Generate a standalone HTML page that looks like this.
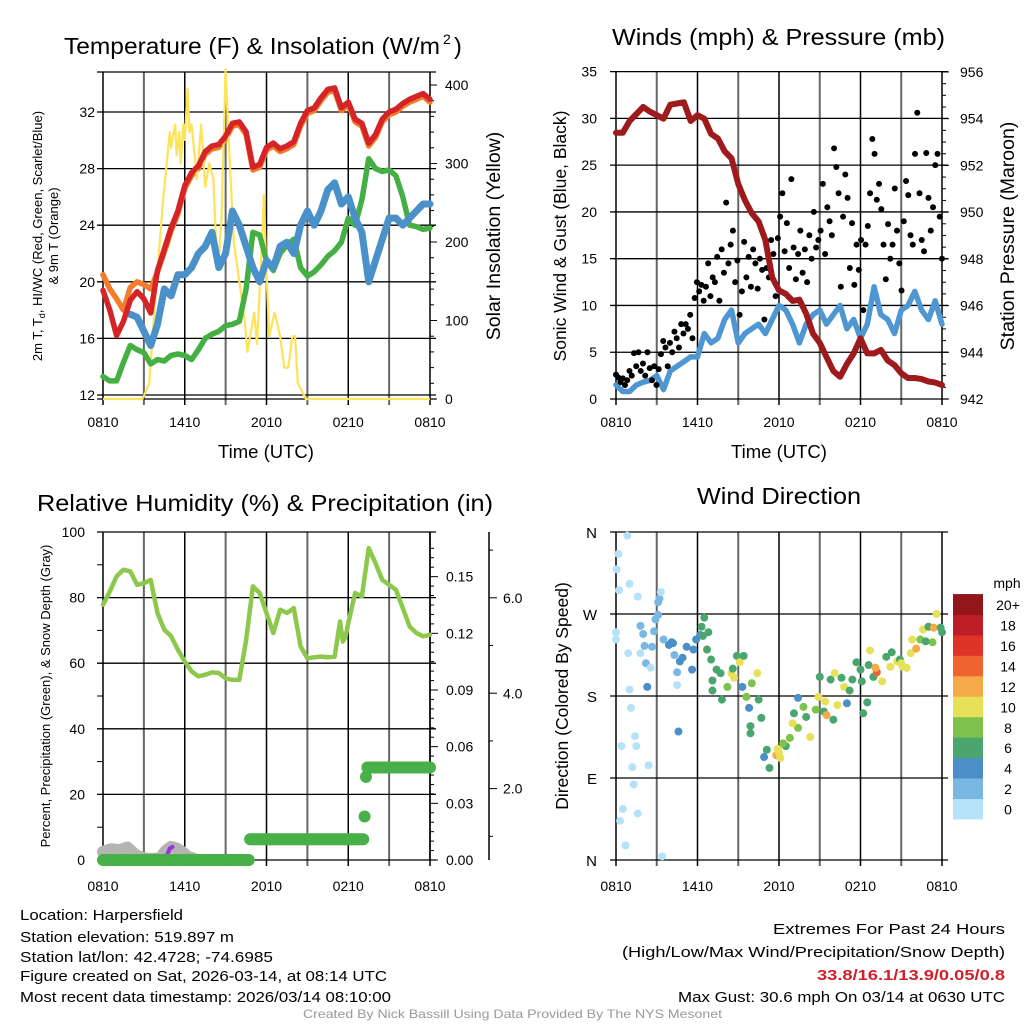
<!DOCTYPE html>
<html><head><meta charset="utf-8"><style>
html,body{margin:0;padding:0;background:#fff;}
svg{display:block;font-family:"Liberation Sans",sans-serif;}
</style></head><body>
<svg id="fig" width="1024" height="1024" viewBox="0 0 1024 1024" xmlns="http://www.w3.org/2000/svg">
<rect x="0" y="0" width="1024" height="1024" fill="#fff"/>
<g id="layer"></g>
</svg>
<script>
// ---------- DATA ----------
var halfHours = [0,0.5,1,1.5,2,2.5,3,3.5,4,4.5,5,5.5,6,6.5,7,7.5,8,8.5,9,9.5,10,10.5,11,11.5,12,12.5,13,13.5,14,14.5,15,15.5,16,16.5,17,17.5,18,18.5,19,19.5,20,20.5,21,21.5,22,22.5,23,23.5,24];
var tempRed = [19.4,18.0,16.2,17.2,18.7,19.3,18.8,17.8,20.8,22.3,23.8,25.0,26.8,27.7,28.2,29.2,29.6,29.7,30.3,31.2,31.3,30.6,28.1,28.3,29.5,29.8,29.4,29.6,29.9,31.2,32.1,32.3,33.0,33.6,33.7,32.3,32.7,31.5,31.2,29.8,30.4,31.5,32.0,32.2,32.6,32.9,33.1,33.3,32.9];
var temp9m = [20.5,19.5,18.8,18.0,19.6,20.0,19.8,19.5,20.7,22.1,23.6,24.8,26.6,27.5,28.0,29.0,29.4,29.5,30.1,31.0,31.1,30.4,27.9,28.1,29.3,29.6,29.2,29.4,29.7,31.0,31.9,32.1,32.8,33.4,33.5,32.1,32.5,31.3,31.0,29.6,30.2,31.3,31.8,32.0,32.4,32.7,32.9,33.1,32.7];
var dewGreen = [13.3,13.0,13.0,14.3,15.5,15.2,15.0,14.2,14.5,14.4,14.8,14.9,14.8,14.5,15.2,16.0,16.3,16.5,16.9,17.0,17.2,19.5,23.5,23.3,21.5,20.8,22.0,22.6,23.0,21.0,20.4,20.7,21.2,21.8,22.2,22.8,24.5,24.0,25.8,28.7,28.0,27.8,27.9,27.5,26.0,24.0,23.9,23.7,23.8];
var chillBlue = [null,null,null,null,17.7,17.5,16.5,15.5,17.0,19.5,19.0,20.5,20.5,21.0,22.0,22.5,23.5,21.0,22.0,25.0,24.0,22.5,21.0,20.0,21.5,21.0,22.5,22.8,22.0,24.0,25.0,24.0,25.0,26.5,27.0,25.5,26.0,24.5,23.5,20.0,21.5,23.0,24.5,24.5,24.0,24.5,25.0,25.5,25.5];
var solarHours = [0,2.9,3.4,3.8,4.4,4.9,5.0,5.3,5.4,5.6,5.7,5.9,6.0,6.2,6.35,6.5,6.9,7.2,7.5,7.8,8.1,8.3,8.5,8.7,9.0,9.2,9.6,10.0,10.4,10.6,10.9,11.1,11.3,11.7,11.8,12.0,12.2,12.6,13.0,13.3,13.6,13.9,14.1,14.3,14.9,24];
var solarValues = [0,0,20,120,250,340,320,350,310,340,300,350,330,395,340,350,280,350,270,300,280,200,180,230,420,340,200,150,100,60,90,110,70,210,260,160,80,110,80,40,40,80,80,20,0,0];
var pressure = [953.4,953.4,953.9,954.2,954.5,954.3,954.15,954.0,954.6,954.65,954.7,953.9,954.15,954.0,953.35,953.15,952.6,952.3,951.2,950.5,949.95,949.6,948.8,947.2,946.65,946.5,946.2,946.25,945.65,944.8,944.4,943.8,943.2,942.95,943.5,943.95,944.6,943.95,943.95,944.1,943.65,943.45,943.1,942.9,942.9,942.85,942.75,942.7,942.6];
var windSpeed = [1.5,0.8,0.8,1.5,1.8,2.0,2.5,1.0,3.0,3.5,4.0,4.5,4.5,7.0,6.0,6.5,8.5,9.5,6.0,7.0,7.5,8.0,7.0,8.5,10.0,9.5,8.0,6.0,8.0,9.0,9.5,8.0,9.0,10.0,7.5,8.5,6.5,8.0,12.0,9.0,8.5,7.0,9.5,10.0,11.5,9.5,8.5,10.5,8.0];
var gusts = [2.6,2.3,1.8,2.2,1.5,2.0,3.0,
2.5,4.9,3.5,5.0,3.0,3.8,
2.5,5.0,3.3,2.0,3.5,1.5,
3.2,4.8,6.2,5.5,3.5,6.0,
5.0,7.2,6.5,5.5,8.0,7.0,
8.0,7.5,9.0,6.5,10.8,12.5,
11.5,12.2,10.5,12.0,14.5,11.0,
13.0,12.5,15.2,10.5,16.0,13.5,
21.0,14.5,16.5,18.0,12.5,14.8,
9.0,11.5,16.8,13.0,15.2,12.0,
16.0,14.5,11.8,15.0,13.8,8.5,
14.0,13.0,17.0,15.5,11.0,17.2,
19.5,22.0,15.8,18.8,14.0,23.5,
16.2,12.8,15.5,18.0,13.5,16.0,
12.5,17.5,15.0,20.0,16.2,17.0,
18.0,23.0,15.5,20.5,19.0,17.5,
26.8,24.8,22.0,12.0,19.5,24.0,
21.5,14.0,18.8,12.2,16.5,13.8,
17.0,9.5,16.5,18.5,22.0,27.8,
26.2,21.3,23.0,20.3,16.5,12.8,
18.7,15.0,16.5,22.5,18.0,14.5,
11.6,19.0,23.3,21.8,17.5,16.5,
26.2,30.6,22.0,17.0,15.8,26.3,
21.5,18.0,20.5,25.0,26.2,19.5,
15.0];
var rhHours = [0,0.5,1,1.5,2,2.5,3,3.5,4,4.5,5,5.5,6,6.5,7,7.5,8,8.5,9,9.5,10,10.5,11,11.5,12,12.5,13,13.5,14,14.5,15,15.5,16,16.5,17,17.4,17.6,17.8,18,18.5,19,19.5,20,20.5,21,21.5,22,22.5,23,23.5,24];
var rhValues = [77.8,81.9,86.5,88.5,88,83.9,84.4,85.4,75.3,70.2,68.2,64.1,60.5,57.5,56,56.5,57.2,57,55.4,54.9,54.9,67,83.4,81.4,75.3,69.2,76.3,75.3,76.8,65.1,61.5,61.8,62,61.8,62,72.7,66.6,68,72.2,81.4,80.4,95.1,90.5,85.4,83.9,82.4,76.8,71.2,69.2,68.2,68.7];
var precipHours = [0,10.7,10.71,19.1,19.15,19.25,19.3,19.38,19.45,24];
var precipValues = [0,0,0.011,0.011,0.023,0.038,0.044,0.049,0.049,0.049];
var snowHours = [0,0.6,1.2,1.8,2.4,3.0,3.6,4.2,4.6,5.0,5.4,5.8,6.2,6.6];
var snowValues = [2.5,3.3,3.0,3.8,1.5,0.5,0.3,0.5,2.8,4.0,3.5,2.5,1.0,0.5];
var dirHours = [0.83,0.17,0.05,0.22,1.0,1.6,0,0,0.9,1.0,1.1,1.4,0.4,1.5,1.2,2.4,1.3,0.5,1.6,0.3,0.7,3.4,1.8,2.0,2.1,1.8,2.2,2.55,2.3,2.65,2.8,2.9,3.1,3.2,3.3,3.1,3.5,3.9,4.1,4.2,4.3,4.5,4.5,4.6,4.7,4.9,5.2,5.6,5.7,5.9,6.2,6.5,6.3,6.4,6.8,6.7,7.0,7.4,7.7,7.1,7.1,7.8,8.2,8.5,8.9,9.1,9.4,9.3,9.6,10.0,9.8,10.4,10.5,10.7,9.9,9.9,10.9,11.1,11.3,11.8,12.1,12.5,12.8,13.4,13.1,13.8,13.4,14.0,14.3,14.7,15.0,14.9,15.3,15.5,15.4,15.8,16.0,16.3,16.6,16.8,17.0,17.2,17.4,17.7,18.0,18.2,18.5,18.1,18.7,18.95,18.6,19.2,19.1,19.6,19.9,20.3,20.2,20.7,21.1,21.4,21.7,21.8,22.1,22.4,22.6,23.0,23.3,23.4,23.6,23.9,24.0,12.0,11.9,12.3,8.6,8.7,13.0,16.1,20.9,21.0,22.8];
var dirDegrees = [356,336,319,296,303,289,250,242,227,187,167,136,125,125,102,104,83,56,51,43,16,4,257,248,235,227,216,211,190,234,251,264,283,287,294,269,242,236,239,238,225,206,192,141,218,222,234,209,231,242,247,266,256,246,250,231,220,209,205,197,186,176,190,205,224,217,224,190,179,194,167,205,176,156,147,139,113,121,101,115,112,125,134,145,161,168,178,157,135,165,201,179,163,159,174,198,154,170,200,190,172,186,198,217,209,161,173,196,230,201,214,206,211,196,223,228,212,218,212,211,227,242,232,242,253,256,239,255,270,255,250,118,122,128,210,200,150,205,220,216,240];
var dirSpeeds = [1,1,1,1,1,1,1,1,1,1,1,1,1,1,1,1,1,1,1,1,1,1,3,3,3,1,3,1,4,3,3,3,3,3,1,3,3,4,4,4,3,3,1,4,4,4,4,4,4,4,5,7,7,7,7,6,6,6,7,7,6,6,8,10,7,10,7,4,8,8,4,10,7,7,7,7,4,7,7,12,10,7,8,8,7,8,4,7,10,8,7,10,7,13,10,7,7,10,7,10,4,7,7,7,7,7,7,7,10,7,7,15,13,10,7,7,10,10,10,10,10,10,13,9,10,7,9,13,10,7,7,10,11,8,7,11,10,10,7,10,7,10];
var colorBins = ["#b5e2f8","#7ab8e4","#4a8fc7","#4aa66e","#7dc24b","#e6e158","#f6a947","#ef6330","#de3327","#be1e27","#921519"];
var binLabels = ["0","2","4","6","8","10","12","14","16","18","20+"];
var timeLabels = ["0810","1410","2010","0210","0810"];
var tempTicks = [12,16,20,24,28,32];
var solarTicks = [0,100,200,300,400];
var windTicks = [0,5,10,15,20,25,30,35];
var pressTicks = [942,944,946,948,950,952,954,956];
var rhTicks = [0,20,40,60,80,100];
var precipTicks = ["0.00","0.03","0.06","0.09","0.12","0.15"];
var snowTicks = ["2.0","4.0","6.0"];
var dirLabels = ["N","E","S","W","N"];

// ---------- HELPERS ----------
var NS = "http://www.w3.org/2000/svg";
var layer = document.getElementById("layer");
function mk(tag, attrs, parent) {
  var e = document.createElementNS(NS, tag);
  for (var k in attrs) e.setAttribute(k, attrs[k]);
  (parent || layer).appendChild(e);
  return e;
}
function txt(s, x, y, size, anchor, parent, extra) {
  var a = {x: x, y: y, "font-size": size, "text-anchor": anchor || "start", fill: "#000"};
  if (extra) for (var k in extra) a[k] = extra[k];
  var t = mk("text", a, parent);
  t.textContent = s;
  return t;
}
function pathFrom(xs, ys, fx, fy) {
  var d = "", pen = false;
  for (var i = 0; i < xs.length; i++) {
    if (ys[i] === null) { pen = false; continue; }
    d += (pen ? "L" : "M") + fx(xs[i]).toFixed(1) + "," + fy(ys[i]).toFixed(1);
    pen = true;
  }
  return d;
}
function frame(g, x0, x1, y0, y1) {
  for (var i = 0; i <= 8; i++) {
    var x = x0 + (x1 - x0) * i / 8;
    var gl = mk("line", {x1: x, x2: x, y1: y0, y2: y1 + 6, stroke: i % 2 ? "#666" : "#000", "stroke-width": i % 2 ? 2 : 1.5}, g);
    
    
  }
}
function xlabels(g, x0, x1, y) {
  for (var i = 0; i < timeLabels.length; i++) {
    var t = txt(timeLabels[i], x0 + (x1 - x0) * i / 4, y, 14, "middle", g);
    
    
  }
}
function hline(g, x0, x1, y, color) {
  var l = mk("line", {x1: x0 - 6, x2: x1 + 6, y1: y, y2: y, stroke: color || "#000", "stroke-width": 1.3}, g);
  
  
}

// ---------- PANEL 1: Temperature ----------
(function () {
  var g = mk("g", {});
  
  
  var x0 = 103, x1 = 430, y0 = 72, y1 = 399;
  var fx = function (h) { return x0 + h / 24 * (x1 - x0); };
  var fy = function (t) { return 395 - (t - 12) * 14.15; };
  var fs = function (s) { return 399 - s * 0.785; };
  frame(g, x0, x1, y0, y1);
  hline(g, x0, x1, y0); hline(g, x0, x1, y1);
  for (var i = 0; i < tempTicks.length; i++) {
    hline(g, x0, x1, fy(tempTicks[i]));
    var t = txt(String(tempTicks[i]), 95, fy(tempTicks[i]) + 5, 14, "end", g);
    
    
  }
  for (var s = 0; s <= 400; s += 20) mk("line", {x1: x1, x2: x1 + (s % 100 ? 4 : 7), y1: fs(s), y2: fs(s), stroke: "#000"}, g);
  for (var j = 0; j < solarTicks.length; j++) {
    var t2 = txt(String(solarTicks[j]), 445, fs(solarTicks[j]) + 5, 14, "start", g);
    
    
  }
  var o = mk("path", {d: pathFrom(halfHours, temp9m, fx, fy), fill: "none", stroke: "#f47b2b", "stroke-width": 5.5, "stroke-linejoin": "round", "stroke-linecap": "round"}, g);
  
  
  var sol = mk("path", {d: pathFrom(solarHours, solarValues, fx, fs), fill: "none", stroke: "#fde35a", "stroke-width": 2.2, "stroke-linejoin": "round"}, g);
  
  
  var gr = mk("path", {d: pathFrom(halfHours, dewGreen, fx, fy), fill: "none", stroke: "#44b043", "stroke-width": 5.5, "stroke-linejoin": "round", "stroke-linecap": "round"}, g);
  
  
  var bl = mk("path", {d: pathFrom(halfHours, chillBlue, fx, fy), fill: "none", stroke: "#4a90c9", "stroke-width": 7, "stroke-linejoin": "round", "stroke-linecap": "round"}, g);
  
  
  var rd = mk("path", {d: pathFrom(halfHours, tempRed, fx, fy), fill: "none", stroke: "#d42428", "stroke-width": 5.5, "stroke-linejoin": "round", "stroke-linecap": "round"}, g);
  
  
  xlabels(g, x0, x1, 427);
  var ti = txt("Temperature (F) & Insolation (W/m", 64, 54, 23.5, "start", g, {textLength: 376, lengthAdjust: "spacingAndGlyphs"});
  
  
  var ti2 = txt("2", 443, 44, 14, "start", g);
  
  
  var ti3 = txt(")", 454, 54, 23.5, "start", g);
  
  
  var xl = txt("Time (UTC)", 266, 458, 18.5, "middle", g);
  
  
  var yl = txt("2m T, T", 0, 0, 13, "middle", g, {transform: "translate(42,236) rotate(-90)"});
  
  
  var sb = mk("tspan", {dy: 3, "font-size": 9}, yl); sb.textContent = "d";
  var rest = mk("tspan", {dy: -3}, yl); rest.textContent = ", HI/WC (Red, Green, Scarlet/Blue)";
  var yl2 = txt("& 9m T (Orange)", 0, 0, 13, "middle", g, {transform: "translate(58,236) rotate(-90)"});
  
  
  var yr = txt("Solar Insolation (Yellow)", 0, 0, 19.5, "middle", g, {transform: "translate(500,236) rotate(-90)"});
  
  
})();

// ---------- PANEL 2: Winds ----------
(function () {
  var g = mk("g", {});
  
  
  var x0 = 616, x1 = 942, y0 = 72, y1 = 399;
  var fx = function (h) { return x0 + h / 24 * (x1 - x0); };
  var fw = function (w) { return 399 - w * 9.354; };
  var fp = function (p) { return 399 - (p - 942) * 23.36; };
  frame(g, x0, x1, y0, y1);
  for (var i = 0; i < windTicks.length; i++) {
    hline(g, x0, x1, fw(windTicks[i]));
    var t = txt(String(windTicks[i]), 597, fw(windTicks[i]) + 5, 14, "end", g);
    
    
  }
  for (var p = 942; p <= 956; p += 0.5) mk("line", {x1: x1, x2: x1 + ((p % 2) ? 4 : 7), y1: fp(p), y2: fp(p), stroke: "#000"}, g);
  for (var j = 0; j < pressTicks.length; j++) {
    var t2 = txt(String(pressTicks[j]), 960, fp(pressTicks[j]) + 5, 14, "start", g);
    
    
  }
  var bl = mk("path", {d: pathFrom(halfHours, windSpeed, fx, fw), fill: "none", stroke: "#4f97d2", "stroke-width": 5.5, "stroke-linejoin": "round", "stroke-linecap": "round"}, g);
  
  
  for (var k = 0; k < gusts.length; k++) {
    var c = mk("circle", {cx: fx(k * 24 / (gusts.length - 1)), cy: fw(gusts[k]), r: 3, fill: "#000"}, g);
    
    
  }
  var pr = mk("path", {d: pathFrom(halfHours, pressure, fx, fp), fill: "none", stroke: "#9e1a1d", "stroke-width": 6, "stroke-linejoin": "round", "stroke-linecap": "round"}, g);
  
  
  xlabels(g, x0, x1, 427);
  var ti = txt("Winds (mph) & Pressure (mb)", 612, 45, 23.5, "start", g, {textLength: 333, lengthAdjust: "spacingAndGlyphs"});
  
  
  var xl = txt("Time (UTC)", 779, 458, 18.5, "middle", g);
  
  
  var yl = txt("Sonic Wind & Gust (Blue, Black)", 0, 0, 17.5, "middle", g, {transform: "translate(566,236) rotate(-90)"});
  
  
  var yr = txt("Station Pressure (Maroon)", 0, 0, 19.5, "middle", g, {transform: "translate(1014,236) rotate(-90)"});
  
  
})();

// ---------- PANEL 3: RH & precip ----------
(function () {
  var g = mk("g", {});
  
  
  var x0 = 103, x1 = 430, y0 = 532, y1 = 860;
  var fx = function (h) { return x0 + h / 24 * (x1 - x0); };
  var fr = function (r) { return 860 - r * 3.28; };
  var fi = function (v) { return 860 - v * 1889; };
  frame(g, x0, x1, y0, y1);
  for (var i = 0; i < rhTicks.length; i++) {
    hline(g, x0, x1, fr(rhTicks[i]));
    var t = txt(String(rhTicks[i]), 85, fr(rhTicks[i]) + 5, 14, "end", g);
    
    
  }
  for (var r = 10; r <= 90; r += 20) mk("line", {x1: x0 - 6, x2: x0, y1: fr(r), y2: fr(r), stroke: "#000"}, g);
  mk("line", {x1: x1, x2: x1, y1: y0, y2: y1, stroke: "#000", "stroke-width": 1.5}, g);
  for (var v = 0; v <= 0.17; v += 0.005) mk("line", {x1: x1, x2: x1 + (Math.round(v * 1000) % 30 ? 4 : 8), y1: fi(v), y2: fi(v), stroke: "#000"}, g);
  for (var j = 0; j < precipTicks.length; j++) {
    var t2 = txt(precipTicks[j], 446, fi(parseFloat(precipTicks[j])) + 5, 14, "start", g);
    
    
  }
  var ax2 = mk("line", {x1: 489, x2: 489, y1: 532, y2: 860, stroke: "#000", "stroke-width": 1.5}, g);
  
  
  for (var s = 0; s < 8; s++) { var yy = 884 - s * 47.7; if (yy <= 860 && yy >= 532) mk("line", {x1: 489, x2: 489 + (s % 2 ? 4 : 8), y1: yy, y2: yy, stroke: "#000"}, g); }
  for (var q = 0; q < snowTicks.length; q++) {
    var t3 = txt(snowTicks[q], 503, 884 - (q + 1) * 95.3 + 5, 14, "start", g);
    
    
  }
  var sn = mk("path", {d: pathFrom(snowHours, snowValues, fx, fr), fill: "none", stroke: "#b4b4b4", "stroke-width": 12, "stroke-linejoin": "round", "stroke-linecap": "round"}, g);
  
  
  var pu = mk("path", {d: "M" + fx(4.6) + "," + fr(0.5) + "L" + fx(4.9) + "," + fr(3.5) + "L" + fx(5.1) + "," + fr(4), fill: "none", stroke: "#9b30e0", "stroke-width": 4, "stroke-linecap": "round"}, g);
  
  
  var rh = mk("path", {d: pathFrom(rhHours, rhValues, fx, fr), fill: "none", stroke: "#8cc84b", "stroke-width": 4.5, "stroke-linejoin": "round", "stroke-linecap": "round"}, g);
  
  
  for (var h = 0; h <= 24.001; h += 0.1) {
    var val = 0;
    for (var m = 0; m < precipHours.length; m++) if (precipHours[m] <= h + 1e-6) val = precipValues[m];
    var c = mk("circle", {cx: fx(h), cy: fi(val), r: 6, fill: "#48b048"}, g);
    
    
  }
  xlabels(g, x0, x1, 891);
  var ti = txt("Relative Humidity (%) & Precipitation (in)", 37, 511, 23.5, "start", g, {textLength: 456, lengthAdjust: "spacingAndGlyphs"});
  
  
  var yl = txt("Percent, Precipitation (Green), & Snow Depth (Gray)", 0, 0, 13, "middle", g, {transform: "translate(50,696) rotate(-90)"});
  
  
})();

// ---------- PANEL 4: Wind direction ----------
(function () {
  var g = mk("g", {});
  
  
  var x0 = 616, x1 = 942, y0 = 532, y1 = 860;
  var fx = function (h) { return x0 + h / 24 * (x1 - x0); };
  var fd = function (d) { return 860 - d / 360 * 328; };
  frame(g, x0, x1, y0, y1);
  for (var i = 0; i < dirLabels.length; i++) {
    hline(g, x0, x1, fd(i * 90));
    var t = txt(dirLabels[i], 597, fd(i * 90) + 6, 15, "end", g);
    
    
  }
  var n = Math.min(dirHours.length, dirDegrees.length);
  for (var k = 0; k < n; k++) {
    var sp = (dirSpeeds[k] === undefined) ? 8 : dirSpeeds[k];
    var b = Math.min(10, Math.floor(sp / 2));
    var c = mk("circle", {cx: fx(dirHours[k]), cy: fd(dirDegrees[k]), r: 4, fill: colorBins[b]}, g);
    
    
  }
  for (var j = 0; j < colorBins.length; j++) {
    var yy = 819 - (j + 1) * 20.45;
    var r = mk("rect", {x: 953, y: yy, width: 30, height: 20.9, fill: colorBins[j]}, g);
    
    
    var t2 = txt(binLabels[j], 1008, yy + 16, 14, "middle", g);
    
    
  }
  var mp = txt("mph", 1007, 588, 14, "middle", g);
  
  
  xlabels(g, x0, x1, 891);
  var ti = txt("Wind Direction", 697, 504, 23.5, "start", g, {textLength: 164, lengthAdjust: "spacingAndGlyphs"});
  
  
  var yl = txt("Direction (Colored By Speed)", 0, 0, 17.5, "middle", g, {transform: "translate(568,696) rotate(-90)"});
  
  
})();
</script>
<svg width="1024" height="1024" viewBox="0 0 1024 1024" style="position:absolute;left:0;top:0;font-family:'Liberation Sans Narrow','Liberation Sans',sans-serif">
<g font-size="15" fill="#000">
<text x="20" y="920" textLength="163" lengthAdjust="spacingAndGlyphs">Location: Harpersfield</text>
<text x="20" y="942" textLength="214" lengthAdjust="spacingAndGlyphs">Station elevation: 519.897 m</text>
<text x="20" y="962" textLength="253" lengthAdjust="spacingAndGlyphs">Station lat/lon: 42.4728; -74.6985</text>
<text x="20" y="981" textLength="367" lengthAdjust="spacingAndGlyphs">Figure created on Sat, 2026-03-14, at 08:14 UTC</text>
<text x="20" y="1002" textLength="371" lengthAdjust="spacingAndGlyphs">Most recent data timestamp: 2026/03/14 08:10:00</text>
<text x="773" y="934" textLength="232" lengthAdjust="spacingAndGlyphs">Extremes For Past 24 Hours</text>
<text x="622" y="957" textLength="383" lengthAdjust="spacingAndGlyphs">(High/Low/Max Wind/Precipitation/Snow Depth)</text>
<text x="817" y="980" textLength="188" lengthAdjust="spacingAndGlyphs" fill="#d0202a" font-weight="bold">33.8/16.1/13.9/0.05/0.8</text>
<text x="678" y="1002" textLength="327" lengthAdjust="spacingAndGlyphs">Max Gust: 30.6 mph On 03/14 at 0630 UTC</text>
<text x="303" y="1018" font-size="12" fill="#999" textLength="419" lengthAdjust="spacingAndGlyphs">Created By Nick Bassill Using Data Provided By The NYS Mesonet</text>
</g>
</svg>
</body></html>
